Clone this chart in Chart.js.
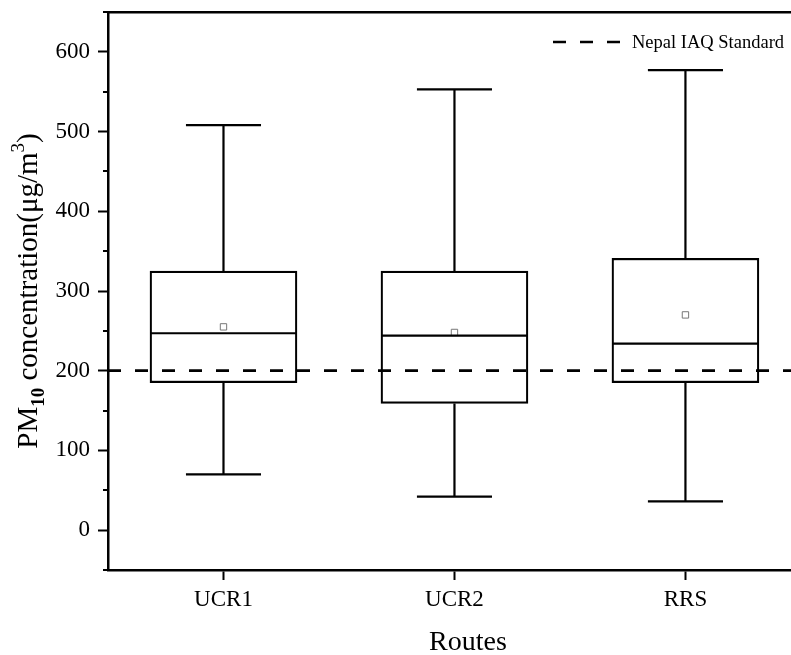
<!DOCTYPE html>
<html>
<head>
<meta charset="utf-8">
<script src="https://cdn.jsdelivr.net/npm/chart.js@4/dist/chart.umd.min.js"></script>
<style>
  html, body { margin: 0; padding: 0; background: #fff; overflow: hidden; }
  canvas { display: block; }
</style>
</head>
<body>
<canvas id="chart" width="791" height="655"></canvas>
<script>
// Box plot data per route
const routes = ["UCR1", "UCR2", "RRS"];
const whiskerMin = [70, 42, 36];
const q1 = [185, 159, 185];
const median = [247, 244, 234];
const q3 = [325, 325, 341];
const whiskerMax = [508, 553, 577];
const mean = [255, 248, 270];

const standardLabel = "Nepal IAQ Standard";
const standardValue = 200;

const yTicks = [0, 100, 200, 300, 400, 500, 600];
const yMinorTicks = [-50, 50, 150, 250, 350, 450, 550, 650];

// x extent (the plot is cropped at the right side)
const xMin = 0.5;
const xMax = 3.457;
const boxWidth = 0.636;
const capWidth = 0.325;

const serif = "'Liberation Serif', 'Times New Roman', serif";

// whiskers, medians, minor ticks, titles and legend
const boxExtras = {
  id: "boxExtras",
  afterDatasetsDraw(chart) {
    const { ctx, scales: { x, y } } = chart;
    ctx.save();
    ctx.strokeStyle = "#000";
    ctx.lineWidth = 2.2;
    routes.forEach((r, i) => {
      const cx = x.getPixelForValue(i + 1);
      const hw = (x.getPixelForValue(i + 1 + boxWidth / 2) - cx);
      const cw = (x.getPixelForValue(i + 1 + capWidth / 2) - cx);
      ctx.beginPath();
      // upper whisker
      ctx.moveTo(cx, y.getPixelForValue(q3[i]));
      ctx.lineTo(cx, y.getPixelForValue(whiskerMax[i]));
      ctx.moveTo(cx - cw, y.getPixelForValue(whiskerMax[i]));
      ctx.lineTo(cx + cw, y.getPixelForValue(whiskerMax[i]));
      // lower whisker
      ctx.moveTo(cx, y.getPixelForValue(q1[i]));
      ctx.lineTo(cx, y.getPixelForValue(whiskerMin[i]));
      ctx.moveTo(cx - cw, y.getPixelForValue(whiskerMin[i]));
      ctx.lineTo(cx + cw, y.getPixelForValue(whiskerMin[i]));
      // median
      ctx.moveTo(cx - hw, y.getPixelForValue(median[i]));
      ctx.lineTo(cx + hw, y.getPixelForValue(median[i]));
      ctx.stroke();
    });
    ctx.restore();
  },
  afterDraw(chart) {
    const { ctx, chartArea, scales: { y } } = chart;
    ctx.save();
    // minor y ticks
    ctx.strokeStyle = "#000";
    ctx.lineWidth = 2;
    ctx.beginPath();
    yMinorTicks.forEach(v => {
      const py = Math.round(y.getPixelForValue(v));
      ctx.moveTo(chartArea.left - 5, py);
      ctx.lineTo(chartArea.left, py);
    });
    ctx.stroke();

    // legend
    const ly = 42;
    ctx.lineWidth = 2.7;
    ctx.setLineDash([13, 14]);
    ctx.beginPath();
    ctx.moveTo(553, ly);
    ctx.lineTo(620, ly);
    ctx.stroke();
    ctx.setLineDash([]);
    ctx.fillStyle = "#000";
    ctx.font = "18.5px " + serif;
    ctx.textBaseline = "middle";
    ctx.fillText(standardLabel, 632, ly + 1);

    // x title
    ctx.font = "28px " + serif;
    ctx.textAlign = "center";
    ctx.textBaseline = "alphabetic";
    ctx.fillText("Routes", 468, 650);

    // y title with sub/superscript
    const parts = [
      { t: "PM", f: "29px " + serif, dy: 0 },
      { t: "10", f: "bold 19px " + serif, dy: 7 },
      { t: " concentration(\u03bcg/m", f: "29px " + serif, dy: 0 },
      { t: "3", f: "19px " + serif, dy: -13 },
      { t: ")", f: "29px " + serif, dy: 0 }
    ];
    let total = 0;
    parts.forEach(p => { ctx.font = p.f; p.w = ctx.measureText(p.t).width; total += p.w; });
    ctx.translate(37, 291);
    ctx.rotate(-Math.PI / 2);
    ctx.textAlign = "left";
    let px = -total / 2;
    parts.forEach(p => {
      ctx.font = p.f;
      ctx.fillText(p.t, px, p.dy);
      px += p.w;
    });
    ctx.restore();
  }
};

const noPad = s => { s.paddingTop = 0; s.paddingBottom = 0; s.paddingLeft = 0; s.paddingRight = 0; };

new Chart(document.getElementById("chart"), {
  data: {
    datasets: [
      {
        type: "bar",
        label: "box",
        data: routes.map((r, i) => ({ x: i + 1, y: [q1[i], q3[i]] })),
        backgroundColor: "#fff",
        borderColor: "#000",
        borderWidth: 2.2,
        borderSkipped: false,
        barThickness: 147,
        order: 3
      },
      {
        type: "line",
        label: standardLabel,
        data: [{ x: xMin, y: standardValue }, { x: xMax, y: standardValue }],
        borderColor: "#000",
        borderWidth: 2.7,
        borderDash: [13, 14],
        pointRadius: 0,
        fill: false,
        order: 2
      },
      {
        type: "line",
        label: "mean",
        data: routes.map((r, i) => ({ x: i + 1, y: mean[i] })),
        showLine: false,
        pointStyle: "rect",
        pointRadius: 4.5,
        pointBackgroundColor: "#fff",
        pointBorderColor: "#777",
        pointBorderWidth: 1,
        order: 1
      }
    ]
  },
  options: {
    responsive: false,
    devicePixelRatio: 1,
    animation: false,
    layout: { autoPadding: false, padding: { top: 12, right: 0, left: 0, bottom: 0 } },
    plugins: {
      legend: { display: false },
      tooltip: { enabled: false }
    },
    scales: {
      x: {
        type: "linear",
        offset: false,
        min: xMin,
        max: xMax,
        afterBuildTicks: s => { s.ticks = routes.map((r, i) => ({ value: i + 1 })); },
        afterFit: s => { s.height = 85; noPad(s); },
        ticks: {
          callback: v => routes[v - 1],
          color: "#000",
          font: { family: serif, size: 23 },
          padding: 6,
          maxRotation: 0
        },
        grid: { offset: false, drawOnChartArea: false, tickLength: 10, tickWidth: 2, tickColor: "#000" },
        border: { color: "#000", width: 2.5 }
      },
      xTop: {
        type: "linear",
        position: "top",
        offset: false,
        min: xMin,
        max: xMax,
        afterFit: s => { s.height = 0; noPad(s); },
        ticks: { display: false },
        grid: { display: false },
        border: { color: "#000", width: 2.5 }
      },
      y: {
        min: -50,
        max: 650,
        afterBuildTicks: s => { s.ticks = yTicks.map(v => ({ value: v })); },
        afterFit: s => { s.width = 108; noPad(s); },
        ticks: {
          color: "#000",
          font: { family: serif, size: 23 },
          padding: 8
        },
        grid: { drawOnChartArea: false, tickLength: 10, tickWidth: 2, tickColor: "#000" },
        border: { color: "#000", width: 2.5 }
      }
    }
  },
  plugins: [boxExtras]
});
</script>
</body>
</html>
